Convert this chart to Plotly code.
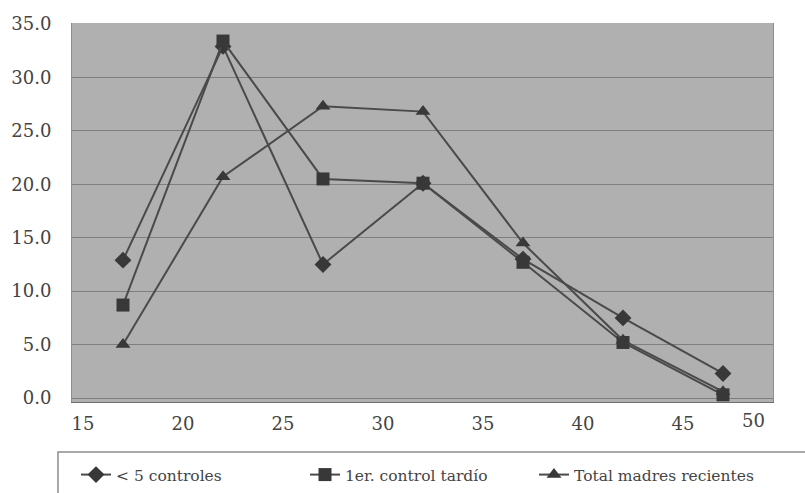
import plotly.graph_objects as go

# Age group midpoints (years)
edad = [17, 22, 27, 32, 37, 42, 47]

# Percentages per age group
menos_5_controles = [12.9, 32.9, 12.5, 20.1, 13.0, 7.5, 2.3]
control_tardio = [8.7, 33.4, 20.5, 20.1, 12.7, 5.2, 0.3]
total_madres = [5.0, 20.7, 27.3, 26.8, 14.5, 5.4, 0.6]

series = [
    ("< 5 controles", menos_5_controles, "diamond", 13),
    ("1er. control tardío", control_tardio, "square", 13),
    ("Total madres recientes", total_madres, "triangle-up", 13),
]

line_color = "#4a4a4a"
marker_color = "#383838"
text_color = "#444444"
font_family = "DejaVu Serif"

fig = go.Figure()
for name, vals, sym, size in series:
    fig.add_trace(go.Scatter(
        x=edad, y=vals, name=name, mode="lines+markers",
        line=dict(color=line_color, width=2),
        marker=dict(symbol=sym, size=size, color=marker_color),
    ))

# Frame around the legend strip
fig.add_shape(
    type="rect", xref="paper", yref="paper",
    x0=-0.02, x1=1.06, y0=-0.26, y1=-0.132,
    line=dict(color="#8c8c8c", width=1.5), fillcolor="rgba(0,0,0,0)",
    layer="below",
)

# Last x tick label, set just inside the plot edge
fig.add_annotation(
    text="50", xref="paper", yref="paper", x=0.991, y=0,
    yshift=-6, yanchor="top", showarrow=False,
    font=dict(family=font_family, size=18, color=text_color),
)

fig.update_layout(
    width=805, height=493,
    margin=dict(l=72, r=32, t=23, b=91),
    paper_bgcolor="#ffffff",
    plot_bgcolor="#b0b0b0",
    font=dict(family=font_family, size=18, color=text_color),
    showlegend=True,
    legend=dict(
        orientation="h", x=0.0057, xanchor="left",
        yref="container", y=0.0365, yanchor="middle",
        borderwidth=0, bgcolor="rgba(0,0,0,0)",
        font=dict(family=font_family, size=15.5, color=text_color),
        entrywidth=184, entrywidthmode="pixels", tracegroupgap=0,
    ),
)
fig.update_xaxes(
    range=[14.45, 49.5], tick0=15, dtick=5, showgrid=False, zeroline=False,
    showline=True, linecolor="#6e6e6e", linewidth=1, ticks="",
    ticklabelstandoff=5,
)
fig.update_yaxes(
    range=[-0.37, 35.09], tick0=0, dtick=5, tickformat=".1f",
    showgrid=True, gridcolor="#7f7f7f", gridwidth=1, zeroline=False,
    showline=True, linecolor="#8e8e8e", mirror=True, ticks="",
    ticklabelstandoff=16,
)

fig.write_html("out.html")
